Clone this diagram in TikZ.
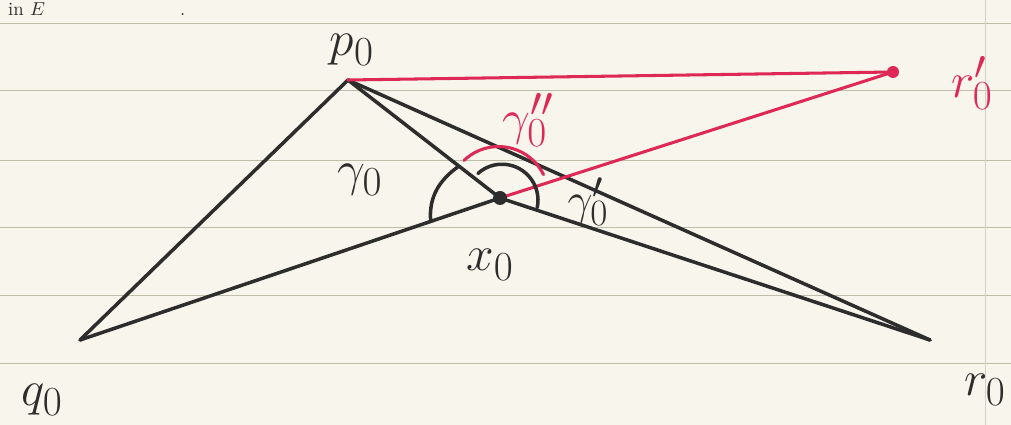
\documentclass[tikz,border=0pt]{standalone}
\usepackage{tikz}
\usepackage{graphicx}
\usetikzlibrary{calc}
\definecolor{paper}{RGB}{248,246,236}
\definecolor{rule}{RGB}{190,190,170}
\definecolor{ink}{RGB}{45,45,45}
\definecolor{redink}{RGB}{222,40,85}
\newcommand{\biglabel}[1]{\scalebox{1.7}{\Huge #1}}
\begin{document}
\begin{tikzpicture}[x=0.03cm,y=0.03cm,
  ruleline/.style={rule,line width=0.8pt},
  inkline/.style={ink,line width=3pt,line cap=round,line join=round},
  redline/.style={redink,line width=2.6pt,line cap=round,line join=round},
  lbl/.style={ink,inner sep=0pt},
  redlbl/.style={redink,inner sep=0pt}]
\useasboundingbox (0,0) rectangle (1011,425);
\clip (0,0) rectangle (1011,425);
\fill[paper] (0,0) rectangle (1011,425);
% ruled paper
\foreach \yy in {402,335,265,198,130,62} \draw[ruleline] (0,\yy) -- (1011,\yy);
\draw[rule!70,line width=0.6pt] (985,0) -- (985,425);
% heading at the top
\node[ink,inner sep=0pt,anchor=base west] (head) at (8,409) {\scalebox{1.6}{in $E$ \hspace{2.3cm} .}};
% points
\coordinate (p) at (348,345);
\coordinate (q) at (80,85);
\coordinate (r) at (930,85);
\coordinate (x) at (500,227);
\coordinate (rp) at (893,353);
% black lines
\draw[inkline] (p) -- (q);
\draw[inkline] (q) -- (x);
\draw[inkline] (p) -- (x);
\draw[inkline] (x) -- (r);
\draw[inkline] (p) -- (r);
% red lines
\draw[redline] (p) -- (rp);
\draw[redline] (x) -- (rp);
\fill[redink] (rp) circle (6);
% point x0
\fill[ink] (x) circle (7);
% angle arcs
\draw[inkline] ($(x)!0.165!(q)$) to[out=95,in=215] ($(x)!0.27!(p)$);
\draw[inkline] ([shift={(132:33)}]x) arc[start angle=132,end angle=-12,radius=36];
\draw[redline] ([shift={(134:52)}]x) arc[start angle=134,end angle=26,radius=50];
% labels
\node[lbl] (lp) at (352,375) {\biglabel{$p_0$}};
\node[lbl] (lq) at (42,25) {\biglabel{$q_0$}};
\node[lbl] (lr) at (985,35) {\biglabel{$r_0$}};
\node[lbl] (lx) at (490,160) {\biglabel{$x_0$}};
\node[lbl] (lg) at (360,245) {\biglabel{$\gamma_0$}};
\node[lbl,scale=0.9] (lgp) at (588,223) {\biglabel{$\gamma'_0$}};
\node[redlbl] (lgpp) at (528,305) {\biglabel{$\gamma''_0$}};
\node[redlbl] (lrp) at (972,342) {\biglabel{$r'_0$}};
\end{tikzpicture}
\end{document}
